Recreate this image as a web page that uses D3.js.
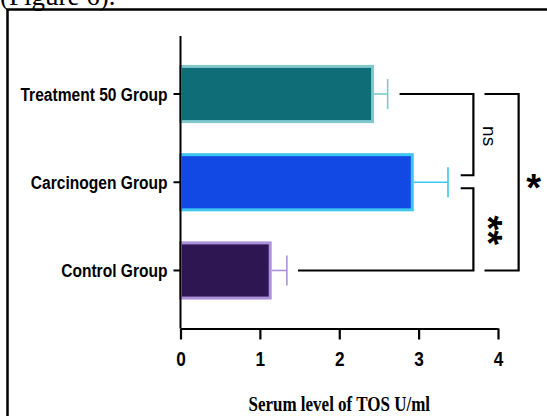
<!DOCTYPE html>
<html>
<head>
<meta charset="utf-8">
<script src="https://cdn.jsdelivr.net/npm/d3@7"></script>
<style>
  html, body { margin: 0; padding: 0; background: #ffffff; }
  svg { display: block; }
</style>
</head>
<body>
<svg id="chart" width="547" height="416"></svg>
<script>
// ---- data ----
const categories = ["Treatment 50 Group", "Carcinogen Group", "Control Group"];
const means = [2.42, 2.92, 1.13];
const errors = [0.19, 0.45, 0.21];
const xTicks = [0, 1, 2, 3, 4];
const fillColors = ["#0f6d77", "#1249e4", "#2d1651"];
const edgeColors = ["#80c8cc", "#3cc6f0", "#ad90dc"];
// significance brackets: [from category, to category, label]
const sigPairs = [
  ["Treatment 50 Group", "Carcinogen Group", "ns"],
  ["Carcinogen Group", "Control Group", "**"],
  ["Treatment 50 Group", "Control Group", "*"]
];
const xTitle = "Serum level of TOS U/ml";
const caption = "(Figure 6).";

// ---- layout ----
const svg = d3.select("#chart");
const x = d3.scaleLinear().domain([0, 4]).range([180.5, 498]);
const y = d3.scaleBand().domain(categories).range([36, 328.5])
  .paddingInner(0.375).paddingOuter(0.345);
const yc = c => y(c) + y.bandwidth() / 2;

// caption (clipped at top, as in the source) and frame
svg.append("text").attr("x", 0).attr("y", 5)
  .attr("font-family", "Liberation Serif, Times New Roman, serif")
  .attr("font-size", 27).attr("fill", "#000").text(caption);
svg.append("rect").attr("x", 7.5).attr("y", 9.5).attr("width", 600).attr("height", 500)
  .attr("fill", "none").attr("stroke", "#000").attr("stroke-width", 2.5);

// bars
const idx = d3.range(categories.length);
svg.append("g").selectAll("rect").data(idx).join("rect")
  .attr("x", x(0))
  .attr("y", i => y(categories[i]))
  .attr("width", i => x(means[i]) - x(0))
  .attr("height", y.bandwidth())
  .attr("fill", i => fillColors[i])
  .attr("stroke", i => edgeColors[i])
  .attr("stroke-width", 3);

// error bars (one-sided)
const eg = svg.append("g");
eg.selectAll("line.h").data(idx).join("line").attr("class", "h")
  .attr("x1", i => x(means[i]) + 1.5).attr("x2", i => x(means[i] + errors[i]))
  .attr("y1", i => yc(categories[i])).attr("y2", i => yc(categories[i]))
  .attr("stroke", i => edgeColors[i]).attr("stroke-width", 1.6);
eg.selectAll("line.c").data(idx).join("line").attr("class", "c")
  .attr("x1", i => x(means[i] + errors[i])).attr("x2", i => x(means[i] + errors[i]))
  .attr("y1", i => yc(categories[i]) - 15).attr("y2", i => yc(categories[i]) + 15)
  .attr("stroke", i => edgeColors[i]).attr("stroke-width", 1.6);

// y axis
const yAxis = svg.append("g").attr("transform", `translate(${x(0)},0)`)
  .call(d3.axisLeft(y).tickSize(7).tickPadding(6));
yAxis.select(".domain").attr("d", `M0,36V${328.5}`).attr("stroke", "#000").attr("stroke-width", 2);
yAxis.selectAll(".tick line").attr("stroke", "#000").attr("stroke-width", 2);
yAxis.selectAll(".tick text")
  .attr("font-family", "Liberation Sans, Arial, sans-serif")
  .attr("font-weight", "bold").attr("font-size", 19).attr("fill", "#000")
  .attr("dy", null).attr("y", 0)
  .attr("x", null)
  .attr("transform", "translate(-13,7) scale(0.82,1)");

// x axis
const xAxis = svg.append("g").attr("transform", "translate(0,328.5)")
  .call(d3.axisBottom(x).tickValues(xTicks).tickFormat(d3.format("d")).tickSize(11).tickSizeOuter(0));
xAxis.select(".domain").attr("stroke", "#000").attr("stroke-width", 2.2);
xAxis.selectAll(".tick line").attr("stroke", "#000").attr("stroke-width", 2.2);
xAxis.selectAll(".tick text")
  .attr("font-family", "Liberation Sans, Arial, sans-serif")
  .attr("font-weight", "bold").attr("font-size", 21).attr("fill", "#000")
  .attr("dy", null).attr("y", 38)
  .attr("transform", "scale(0.82,1)");

// x title
svg.append("text")
  .attr("transform", `translate(${(x(0) + x(4)) / 2},411) scale(0.85,1)`)
  .attr("text-anchor", "middle")
  .attr("font-family", "Liberation Serif, Times New Roman, serif")
  .attr("font-weight", "bold").attr("font-size", 20).attr("fill", "#000")
  .text(xTitle);

// significance brackets
const bg = svg.append("g").attr("fill", "none").attr("stroke", "#000").attr("stroke-width", 2.2);
const yT = yc(sigPairs[0][0]), yCa = yc(sigPairs[0][1]), yCo = yc(sigPairs[1][1]);
// ns: Treatment vs Carcinogen
bg.append("path").attr("d",
  `M${x(2.76)},${yT}H${x(3.69)}V${yCa - 7}H${x(3.53)}`);
// **: Carcinogen vs Control
bg.append("path").attr("d",
  `M${x(3.53)},${yCa + 6}H${x(3.69)}V${yCo}H${x(1.48)}`);
// *: Treatment vs Control
bg.append("path").attr("d",
  `M${x(3.83)},${yT}H${x(4.26)}V${yCo}H${x(3.83)}`);

// labels
const labFont = "Liberation Sans, Arial, sans-serif";
svg.append("text")
  .attr("transform", `translate(${x(3.69) + 10},${(yT + yCa) / 2 - 2}) rotate(90)`)
  .attr("text-anchor", "middle")
  .attr("font-family", labFont).attr("font-size", 19).attr("fill", "#000")
  .text(sigPairs[0][2]);
svg.append("text")
  .attr("transform", `translate(${x(3.69) + 2},${(yCa + yCo) / 2 + 4}) rotate(90)`)
  .attr("text-anchor", "middle")
  .attr("font-family", labFont).attr("font-weight", "bold").attr("font-size", 38).attr("fill", "#000")
  .text(sigPairs[1][2]);
svg.append("text")
  .attr("x", x(4.26) + 15).attr("y", (yT + yCo) / 2 + 19)
  .attr("text-anchor", "middle")
  .attr("font-family", labFont).attr("font-weight", "bold").attr("font-size", 38).attr("fill", "#000")
  .text(sigPairs[2][2]);
</script>
</body>
</html>
